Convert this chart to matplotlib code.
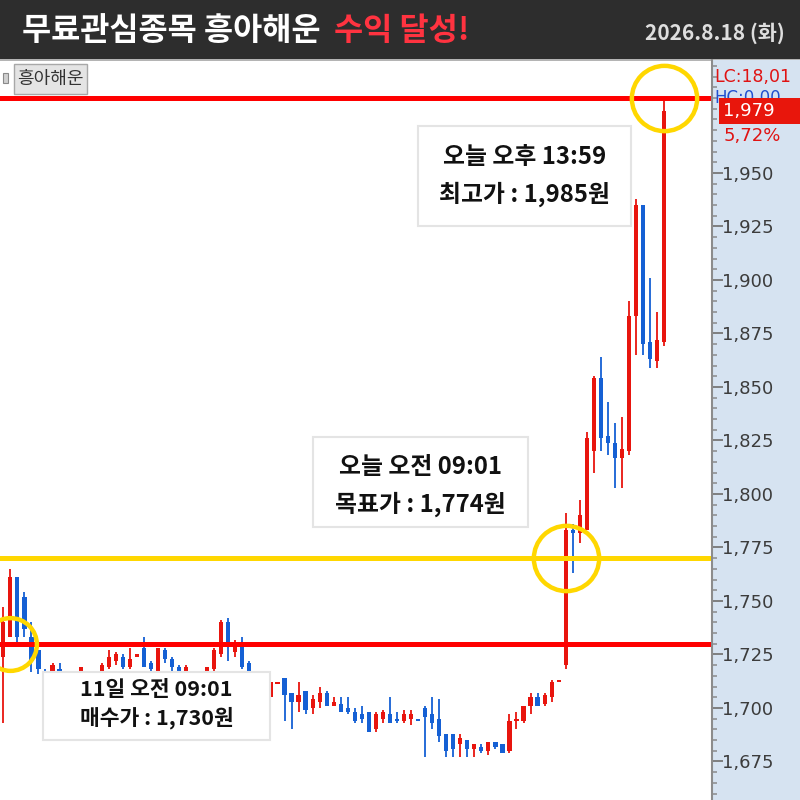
import numpy as np
import matplotlib
matplotlib.use("Agg")
import matplotlib.pyplot as plt
from matplotlib import font_manager
from matplotlib.patches import Rectangle
from matplotlib.ticker import MultipleLocator, FuncFormatter

# ---- data (one candle per bar) ----
open_ = [1724, 1733, 1761, 1752, 1733, 1727, 1716, 1717, 1718, 1714,
         1712, 1716, 1716, 1713, 1716, 1719, 1722, 1724, 1719, 1724,
         1728, 1721, 1717, 1727, 1723, 1719, 1714, 1714, 1711, 1715,
         1718, 1725, 1740, 1726, 1730, 1721, 1716, 1712, 1705, 1711,
         1714, 1707, 1703, 1708, 1700, 1703, 1707, 1701, 1702, 1700,
         1698, 1697, 1698, 1690, 1695, 1697, 1695, 1694, 1695, 1695,
         1700, 1697, 1695, 1688, 1688, 1683, 1685, 1681, 1682, 1680,
         1684, 1683, 1680, 1694, 1694, 1701, 1705, 1702, 1705, 1712,
         1720, 1783, 1782, 1783, 1820, 1854, 1827, 1824, 1817, 1820,
         1883, 1935, 1871, 1862, 1871]
high = [1747, 1765, 1761, 1754, 1740, 1727, 1718, 1721, 1721, 1716,
        1715, 1719, 1717, 1716, 1721, 1727, 1726, 1725, 1728, 1725,
        1733, 1722, 1728, 1728, 1724, 1720, 1720, 1716, 1715, 1719,
        1728, 1741, 1742, 1732, 1733, 1722, 1716, 1716, 1713, 1712,
        1714, 1707, 1712, 1708, 1706, 1710, 1708, 1705, 1705, 1705,
        1700, 1701, 1698, 1698, 1699, 1705, 1698, 1699, 1699, 1695,
        1701, 1705, 1704, 1688, 1688, 1688, 1685, 1683, 1683, 1684,
        1684, 1683, 1697, 1698, 1701, 1707, 1707, 1707, 1713, 1713,
        1791, 1786, 1797, 1829, 1855, 1864, 1843, 1833, 1836, 1890,
        1938, 1935, 1901, 1885, 1985]
low = [1693, 1733, 1731, 1733, 1717, 1716, 1711, 1716, 1714, 1709,
       1710, 1714, 1711, 1711, 1714, 1718, 1720, 1718, 1718, 1724,
       1719, 1717, 1716, 1721, 1717, 1714, 1712, 1709, 1709, 1713,
       1716, 1724, 1722, 1724, 1718, 1714, 1710, 1710, 1704, 1711,
       1694, 1690, 1698, 1697, 1697, 1700, 1701, 1701, 1698, 1697,
       1693, 1693, 1689, 1689, 1693, 1693, 1693, 1693, 1692, 1694,
       1677, 1690, 1684, 1677, 1677, 1677, 1677, 1677, 1679, 1678,
       1681, 1679, 1679, 1690, 1693, 1697, 1701, 1701, 1703, 1712,
       1718, 1763, 1777, 1783, 1810, 1820, 1818, 1803, 1803, 1818,
       1865, 1865, 1859, 1859, 1869]
close = [1740, 1761, 1733, 1737, 1722, 1718, 1712, 1720, 1716, 1712,
         1714, 1719, 1713, 1715, 1720, 1724, 1725, 1719, 1723, 1725,
         1719, 1718, 1728, 1723, 1719, 1716, 1719, 1711, 1713, 1719,
         1727, 1740, 1731, 1731, 1719, 1716, 1712, 1714, 1712, 1712,
         1706, 1703, 1706, 1699, 1704, 1707, 1701, 1703, 1698, 1698,
         1694, 1695, 1689, 1697, 1698, 1693, 1694, 1697, 1697, 1694,
         1696, 1693, 1687, 1680, 1681, 1686, 1681, 1683, 1680, 1684,
         1682, 1679, 1694, 1695, 1701, 1705, 1701, 1706, 1712, 1713,
         1783, 1782, 1790, 1826, 1854, 1826, 1824, 1817, 1821, 1883,
         1935, 1870, 1863, 1872, 1979]

buy_price = 1730
target_line = 1770
high_price = 1985
last_price = 1979
price_ticks = [1675, 1700, 1725, 1750, 1775, 1800, 1825, 1850, 1875, 1900, 1925, 1950]
circle_marks = [(1, buy_price, 38), (80, target_line, 47), (94, high_price, 47)]

title_white = "무료관심종목 흥아해운"
title_red = "수익 달성!"
date_text = "2026.8.18 (화)"
stock_name = "흥아해운"
lc_text = "LC:18,01"
hc_text = "HC:0,00"
pct_text = "5,72%"
note_high = ("오늘 오후 13:59", "최고가 : 1,985원")
note_target = ("오늘 오전 09:01", "목표가 : 1,774원")
note_buy = ("11일 오전 09:01", "매수가 : 1,730원")

RED = "#e8150e"
BLUE = "#1560d4"
LINE_RED = "#ff0000"
YELLOW = "#ffd700"

KR = ["Noto Sans CJK KR", "DejaVu Sans"]
names = {f.name for f in font_manager.fontManager.ttflist}
NARROW = ["Liberation Sans Narrow", "DejaVu Sans"] if "Liberation Sans Narrow" in names else ["DejaVu Sans"]
plt.rcParams["font.family"] = KR

# price -> figure height fraction (chart area spans y 60..800 px)
YLIM = (1657.0, 2002.8)


def fx(px):
    return px / 800


def fy(py):
    return 1 - py / 800


def fprice(p):
    return (p - YLIM[0]) / (YLIM[1] - YLIM[0]) * 740 / 800


fig = plt.figure(figsize=(8, 8), dpi=100)
fig.patch.set_facecolor("white")

# title bar
fig.add_artist(Rectangle((0, fy(60)), 1, 60 / 800, transform=fig.transFigure,
                         facecolor="#2d2d2d", edgecolor="none", zorder=0))
fig.add_artist(Rectangle((0, fy(61)), 1, 2 / 800, transform=fig.transFigure,
                         facecolor="#b4b4b4", edgecolor="none", zorder=0))
t1 = fig.text(fx(22), fy(31), title_white, color="white", fontsize=22.8,
              fontweight="heavy", va="center", ha="left")
r = fig.canvas.get_renderer()
bb = t1.get_window_extent(renderer=r)
fig.text(bb.x1 / 800 + fx(14), fy(31), title_red, color="#ff3340", fontsize=22.8,
         fontweight="heavy", va="center", ha="left")
fig.text(fx(785), fy(33), date_text, color="#dedede", fontsize=15,
         fontweight="bold", va="center", ha="right")

# price chart
ax = fig.add_axes([0, 0, fx(712), 740 / 800])
ax.set_xlim(-0.47, 100.81)
ax.set_ylim(*YLIM)
ax.axis("off")

o = np.array(open_)
c = np.array(close)
h = np.array(high)
l = np.array(low)
idx = np.arange(len(o))
cols = np.where(c >= o, RED, BLUE)
ax.vlines(idx, l, h, colors=cols, lw=1.3, zorder=2)
ax.bar(idx, np.maximum(np.abs(c - o), 0.8), bottom=np.minimum(o, c), width=0.6,
       color=cols, linewidth=0, zorder=3)

ax.axhline(high_price, color=LINE_RED, lw=3.6, zorder=4)
ax.axhline(target_line, color=YELLOW, lw=3.6, zorder=4)
ax.axhline(buy_price, color=LINE_RED, lw=3.6, zorder=4)
for cx, cy, ms in circle_marks:
    ax.plot([cx], [cy], "o", ms=ms, mfc="none", mec=YELLOW, mew=3.2,
            zorder=6, clip_on=False)

# right price axis
ax2 = fig.add_axes([fx(712), 0, fx(88), 740 / 800], facecolor="#d6e3f1")
ax2.set_ylim(*YLIM)
ax2.set_xlim(0, 1)
ax2.set_xticks([])
for s in ["top", "right", "bottom"]:
    ax2.spines[s].set_visible(False)
ax2.spines["left"].set_color("#8c8c8c")
ax2.spines["left"].set_linewidth(1.5)
ax2.set_yticks(price_ticks)
ax2.yaxis.set_minor_locator(MultipleLocator(5))
ax2.yaxis.set_major_formatter(FuncFormatter(lambda v, p: f"{int(v):,}"))
ax2.tick_params(axis="y", which="major", direction="in", length=8, width=1.3,
                color="#777777", pad=-7.5, labelsize=13, labelcolor="#3c3c3c")
ax2.tick_params(axis="y", which="minor", direction="in", length=3.5, width=1.1,
                color="#8a8a8a")
for lab in ax2.get_yticklabels():
    lab.set_ha("left")
    lab.set_fontfamily(NARROW)

fig.text(fx(714), fy(77), lc_text, color="#e01212", fontsize=12.5, family=NARROW,
         va="center", ha="left", zorder=3)
fig.text(fx(714), fy(98), hc_text, color="#2050d0", fontsize=12, family=NARROW,
         va="center", ha="left", zorder=3)
# last-price tag, drawn over the HC line as in the trading screen
fig.add_artist(Rectangle((fx(719), fprice(last_price) - 13 / 800), fx(81), 26 / 800,
                         transform=fig.transFigure, facecolor="#e8160c",
                         edgecolor="none", zorder=6))
fig.text(fx(723), fprice(last_price), f"{last_price:,}", color="white",
         fontsize=13, family=NARROW, va="center", ha="left", zorder=7)
fig.text(fx(724), fy(136), pct_text, color="#e01212", fontsize=13, family=NARROW,
         va="center", ha="left", zorder=3)

# stock name tag
fig.add_artist(Rectangle((fx(3), fy(83)), fx(5), 10 / 800, transform=fig.transFigure,
                         facecolor="#d0d0d0", edgecolor="#8a8a8a", lw=0.8))
fig.add_artist(Rectangle((fx(14), fy(94)), fx(73), 30 / 800, transform=fig.transFigure,
                         facecolor="#e4e4e4", edgecolor="#a8a8a8", lw=1))
fig.text(fx(50.5), fy(79), stock_name, color="#333333", fontsize=13,
         va="center", ha="center")


def note(x0, y0, x1, y1, lines, ys, size):
    fig.add_artist(Rectangle((fx(x0), fy(y1)), fx(x1 - x0), (y1 - y0) / 800,
                             transform=fig.transFigure, facecolor="white",
                             edgecolor="#e4e4e4", lw=1.5, zorder=4))
    cx = (x0 + x1) / 2
    for txt, yy in zip(lines, ys):
        fig.text(fx(cx), fy(yy), txt, color="#111111", fontsize=size,
                 fontweight="bold", va="center", ha="center", zorder=5)


note(418, 126, 631, 226, note_high, [157, 194], 17.2)
note(313, 437, 528, 527, note_target, [467, 504], 17.2)
note(43, 672, 270, 740, note_buy, [690, 718], 15.5)

fig.savefig("out.png", dpi=100)
